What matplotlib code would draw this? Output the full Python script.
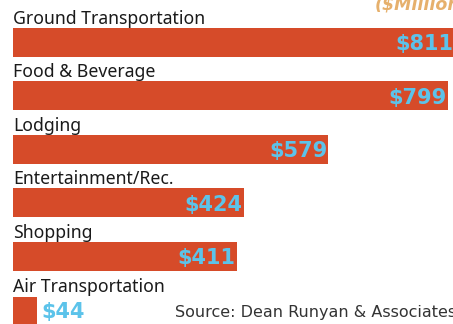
import matplotlib
matplotlib.use("Agg")
import matplotlib.pyplot as plt

categories = ["Ground Transportation", "Food & Beverage", "Lodging",
              "Entertainment/Rec.", "Shopping", "Air Transportation"]
spending = [811, 799, 579, 424, 411, 44]  # $ millions
value_labels = ["$811", "$799", "$579", "$424", "$411", "$44"]

BAR = "#d64b29"
VAL = "#5cc3ea"
INK = "#1a1a1a"
UNIT = "#e6b06c"

W, H = 453, 324
fig = plt.figure(figsize=(W / 100, H / 100), dpi=100)
ax = fig.add_axes([0, 0, 1, 1])
px = 0.5445  # pixels per $ million
ax.set_xlim(-13 / px, (W - 13) / px)
ax.set_ylim(H, 0)
ax.axis("off")

ys = [42 + 53.6 * i for i in range(len(categories))]
ys[-1] = 311
bh = 29
ax.barh(ys, spending, height=bh, color=BAR, left=0)

for y, cat, v, lab in zip(ys, categories, spending, value_labels):
    ax.text(0, y - bh / 2 - 4, cat, ha="left", va="baseline",
            fontsize=12.7, family="Noto Sans", fontweight="semibold", color=INK)
    if v > 100:
        ax.text(v - 1 / px, y + 2, lab, ha="right", va="center",
                fontsize=15, family="DejaVu Sans", fontweight="bold", color=VAL)
    else:
        ax.text(v + 4 / px, y + 1, lab, ha="left", va="center",
                fontsize=15, family="DejaVu Sans", fontweight="bold", color=VAL)

ax.text((375 - 13) / px, 9, "($Million", ha="left", va="baseline",
        fontsize=12.5, family="DejaVu Sans", style="italic", fontweight="bold",
        color=UNIT)
ax.text((175 - 13) / px, 312, "Source: Dean Runyan & Associates",
        ha="left", va="center", fontsize=11.5, family="DejaVu Sans", color="#333333")

fig.savefig("out.png", dpi=100, facecolor="white")
